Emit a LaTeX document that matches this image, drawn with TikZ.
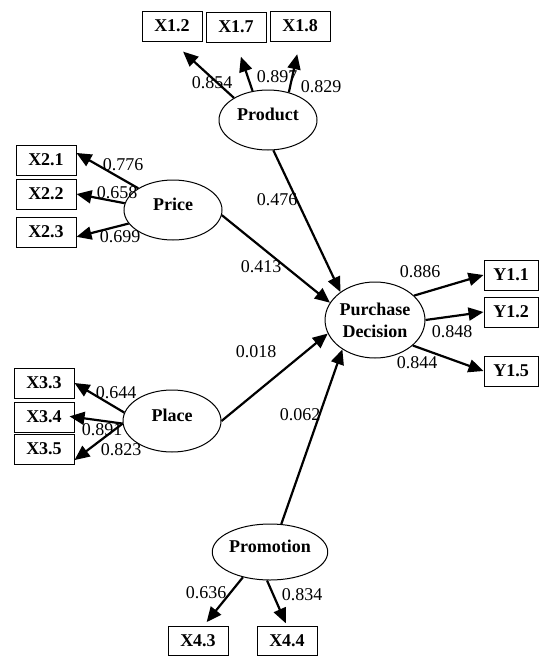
\documentclass[tikz,border=0pt]{standalone}
\usepackage{fontspec}
\setmainfont{Liberation Serif}
\usetikzlibrary{shapes.geometric,arrows.meta}

\begin{document}
\begin{tikzpicture}[x=1pt,y=-1pt,
    latent/.style={ellipse,draw=black,line width=1pt,minimum width=98pt,minimum height=60pt,inner sep=0pt,align=center,font=\fontsize{18}{22}\selectfont\bfseries},
    factor/.style={latent,text depth=12pt},
    indicator/.style={rectangle,draw=black,line width=1pt,minimum width=60pt,minimum height=30pt,inner sep=0pt,font=\fontsize{18}{20}\selectfont\bfseries},
    loading/.style={line width=2.2pt,-{Triangle[length=15pt,width=13pt]}},
    coef/.style={inner sep=0pt,font=\fontsize{18}{20}\selectfont}]
    \useasboundingbox (0,0) rectangle (539,656);

    % latent variables
    \node[factor] (prod) at (268,120) {Product};
    \node[factor] (price) at (173,210) {Price};
    \node[factor,minimum height=62pt] (place) at (172,421) {Place};
    \node[factor,minimum width=96pt,minimum height=56pt] (promo) at (270,552) {Promotion};
    \node[latent,minimum width=96pt,minimum height=76pt] (pd) at (375,320) {Purchase\\Decision};

    % indicators
    \node[indicator] (x12) at (172,26) {X1.2};
    \node[indicator] (x17) at (236,27) {X1.7};
    \node[indicator] (x18) at (300,26) {X1.8};
    \node[indicator] (x21) at (46,160) {X2.1};
    \node[indicator] (x22) at (46,194) {X2.2};
    \node[indicator] (x23) at (46,232) {X2.3};
    \node[indicator] (x33) at (44,383) {X3.3};
    \node[indicator] (x34) at (44,417) {X3.4};
    \node[indicator] (x35) at (44,449) {X3.5};
    \node[indicator,minimum height=29pt] (x43) at (198,641) {X4.3};
    \node[indicator,minimum height=29pt] (x44) at (287,641) {X4.4};
    \node[indicator,minimum width=54pt] (y11) at (511,275) {Y1.1};
    \node[indicator,minimum width=54pt] (y12) at (511,312) {Y1.2};
    \node[indicator,minimum width=54pt] (y15) at (511,371) {Y1.5};

    % outer loadings
    \draw[loading,shorten >=15pt] (prod.147) -- (x12.south);
    \draw[loading,shorten >=15pt] (prod.118) -- (x17.south);
    \draw[loading,shorten >=13pt] (prod.53) -- (x18.south);
    \draw[loading] (price.148) -- (x21.13);
    \draw[loading] (price.172) -- (x22.east);
    \draw[loading] (price.197) -- (x23.-9);
    \draw[loading] (place.170) -- (x33.east);
    \draw[loading,shorten >=-5pt] (place.183) -- (x34.east);
    \draw[loading] (place.183) -- (x35.-20);
    \draw[loading,shorten >=5pt] (promo.223) -- (x43.70);
    \draw[loading,shorten >=3pt] (promo.264) -- (x44.north);
    \draw[loading] (pd.32) -- (y11.west);
    \draw[loading] (pd.east) -- (y12.west);
    \draw[loading] (pd.-34) -- (y15.west);

    % path coefficients
    \draw[loading] (prod.-80) -- (pd.141);
    \draw[loading] (price.-6) -- (pd.159);
    \draw[loading] (place.east) -- (pd.196);
    \draw[loading] (promo.68) -- (pd.222);

    % values
    \node[coef] (l12) at (212,83) {0.854};
    \node[coef] (l17) at (277,77) {0.897};
    \node[coef] (l18) at (321,87) {0.829};
    \node[coef] (l21) at (123,165) {0.776};
    \node[coef] (l22) at (117,193) {0.658};
    \node[coef] (l23) at (120,237) {0.699};
    \node[coef] (l33) at (116,393) {0.644};
    \node[coef] (l34) at (102,430) {0.891};
    \node[coef] (l35) at (121,450) {0.823};
    \node[coef] (l43) at (206,593) {0.636};
    \node[coef] (l44) at (302,595) {0.834};
    \node[coef] (ly11) at (420,272) {0.886};
    \node[coef] (ly12) at (452,332) {0.848};
    \node[coef] (ly15) at (417,363) {0.844};
    \node[coef] (bprod) at (277,200) {0.476};
    \node[coef] (bprice) at (261,267) {0.413};
    \node[coef] (bplace) at (256,352) {0.018};
    \node[coef] (bpromo) at (300,415) {0.062};
\end{tikzpicture}
\end{document}
